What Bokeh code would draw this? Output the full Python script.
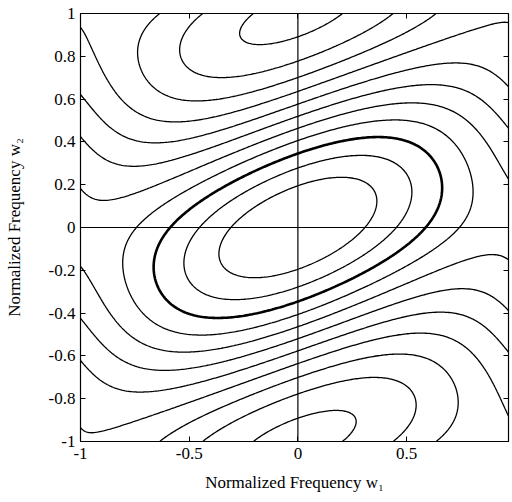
import numpy as np
from bokeh.plotting import figure
from bokeh.models import Range1d, Span, LinearAxis, FixedTicker
from bokeh.embed import file_html
from bokeh.resources import INLINE

# Zero-phase 2-D frequency response: sum of cosine terms cos(pi*(n1*w1 + n2*w2))
term_n1 = [1, 0, 1]
term_n2 = [0, 1, -1]
term_coef = [0.065, 0.645, 0.355]

# contour levels (increasing); the heavy one is drawn thicker
levels = [-0.877, -0.701, -0.525, -0.349, -0.173, 0.003, 0.179, 0.355, 0.531, 0.707, 0.883]
thick_level = 0.531

# frequency grid (normalized, units of pi)
w1_lo, w1_hi = -1.0, 0.96875
w2_lo, w2_hi = -1.0, 1.0

x_ticks = [-1, -0.5, 0, 0.5]
x_tick_labels = ["-1", "-0.5", "0", "0.5"]
y_ticks = [-1, -0.8, -0.6, -0.4, -0.2, 0, 0.2, 0.4, 0.6, 0.8, 1]
y_tick_labels = ["-1", "-0.8", "-0.6", "-0.4", "-0.2", "0", "0.2", "0.4", "0.6", "0.8", "1"]

x_title = "Normalized Frequency w\u2081"
y_title = "Normalized Frequency w\u2082"

w1 = np.linspace(w1_lo, w1_hi, 260)
w2 = np.linspace(w2_lo, w2_hi, 264)
W1, W2 = np.meshgrid(w1, w2)
H = np.zeros_like(W1)
for n1, n2, c in zip(term_n1, term_n2, term_coef):
    H += c * np.cos(np.pi * (n1 * W1 + n2 * W2))

FONT = "Liberation Serif"

p = figure(width=510, height=494,
           x_range=Range1d(w1_lo, w1_hi), y_range=Range1d(w2_lo, w2_hi),
           output_backend="svg", toolbar_location=None,
           min_border_left=80, min_border_right=2, min_border_top=13, min_border_bottom=52)

widths = [2.6 if lv == thick_level else 1.3 for lv in levels]
p.contour(w1, w2, H, levels=levels, line_color="black", line_width=widths)

p.add_layout(Span(location=0, dimension="width", line_color="black", line_width=1.2))
p.add_layout(Span(location=0, dimension="height", line_color="black", line_width=1.2))

p.grid.visible = False
p.outline_line_color = "black"
p.outline_line_width = 1.2
p.background_fill_color = "white"
p.border_fill_color = "white"

xa = p.xaxis[0]
xa.ticker = FixedTicker(ticks=x_ticks)
xa.major_label_overrides = {t: s for t, s in zip(x_ticks, x_tick_labels)}
xa.axis_label = x_title
ya = p.yaxis[0]
ya.ticker = FixedTicker(ticks=y_ticks)
ya.major_label_overrides = {t: s for t, s in zip(y_ticks, y_tick_labels)}
ya.axis_label = y_title

for ax in (xa, ya):
    ax.major_tick_in = 5
    ax.major_tick_out = 0
    ax.minor_tick_line_color = None
    ax.axis_line_color = "black"
    ax.major_tick_line_color = "black"
    ax.major_label_text_font = FONT
    ax.major_label_text_font_size = "17px"
    ax.major_label_text_color = "black"
    ax.axis_label_text_font = FONT
    ax.axis_label_text_font_size = "17px"
    ax.axis_label_text_font_style = "normal"
    ax.axis_label_text_color = "black"
xa.major_label_standoff = 6
xa.axis_label_standoff = 11
ya.major_label_standoff = 5
ya.axis_label_standoff = 22

top_ax = LinearAxis(ticker=FixedTicker(ticks=x_ticks), major_label_text_font_size="1px",
                    major_label_text_color=None,
                    major_label_standoff=0, major_tick_in=5, major_tick_out=0,
                    minor_tick_line_color=None, axis_line_color=None)
right_ax = LinearAxis(ticker=FixedTicker(ticks=y_ticks), major_label_text_font_size="1px",
                      major_label_text_color=None,
                      major_label_standoff=0, major_tick_in=5, major_tick_out=0,
                      minor_tick_line_color=None, axis_line_color=None)
p.add_layout(top_ax, "above")
p.add_layout(right_ax, "right")

open("out.html", "w").write(file_html(p, INLINE))
